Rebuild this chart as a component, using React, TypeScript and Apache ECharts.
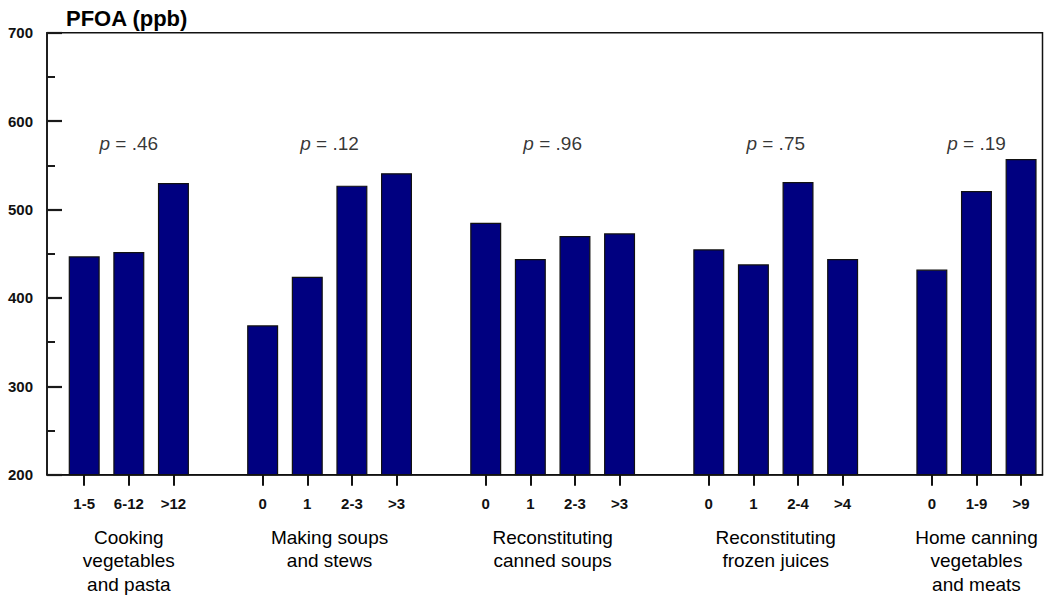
import React, { useEffect, useRef } from "react";
import * as echarts from "echarts";

const groupNames = [
  "Cooking\nvegetables\nand pasta",
  "Making soups\nand stews",
  "Reconstituting\ncanned soups",
  "Reconstituting\nfrozen juices",
  "Home canning\nvegetables\nand meats",
];
const groupCategories = [
  ["1-5", "6-12", ">12"],
  ["0", "1", "2-3", ">3"],
  ["0", "1", "2-3", ">3"],
  ["0", "1", "2-4", ">4"],
  ["0", "1-9", ">9"],
];
const groupValues = [
  [447, 452, 530],
  [369, 424, 527, 541],
  [485, 444, 470, 473],
  [455, 438, 531, 444],
  [432, 521, 557],
];
const pValues = [".46", ".12", ".96", ".75", ".19"];
const yTicks = [200, 300, 400, 500, 600, 700];

const FONT = "'Liberation Sans', Arial, Helvetica, sans-serif";

export default function App() {
  const ref = useRef<HTMLDivElement>(null);
  useEffect(() => {
    document.body.style.margin = "0";
    const chart = echarts.init(ref.current!, undefined, { renderer: "svg" });

    const slotPos: number[] = [];
    const slotLabels: string[] = [];
    const barData: number[][] = [];
    const groupCenters: number[] = [];
    let s = 0;
    groupCategories.forEach((cats, g) => {
      const start = s;
      cats.forEach((c, i) => {
        slotPos.push(s);
        slotLabels.push(c);
        barData.push([s, groupValues[g][i]]);
        s++;
      });
      groupCenters.push((start + s - 1) / 2);
      s++;
    });
    const findIdx = (arr: number[], v: number) =>
      arr.findIndex((p) => Math.abs(p - v) < 1e-6);

    const pLabelY = 575;

    chart.setOption({
      animation: false,
      title: {
        text: "PFOA (ppb)",
        left: 61,
        top: 2,
        textStyle: { fontFamily: FONT, fontSize: 22, fontWeight: "bold", color: "#000" },
      },
      grid: {
        left: 47,
        right: 7.5,
        top: 32.7,
        bottom: 125.3,
        show: true,
        borderColor: "#111",
        borderWidth: 1.5,
        backgroundColor: "transparent",
      },
      xAxis: [
        {
          type: "value",
          min: -0.834,
          max: 21.48,
          splitLine: { show: false },
          axisLine: { show: true, onZero: false, lineStyle: { color: "#111", width: 1.5 } },
          axisTick: {
            show: true,
            length: 11,
            customValues: slotPos,
            lineStyle: { color: "#111", width: 2 },
          },
          axisLabel: {
            customValues: slotPos,
            margin: 21,
            fontFamily: FONT,
            fontSize: 15,
            fontWeight: "bold",
            color: "#111",
            formatter: (v: number) => {
              const i = findIdx(slotPos, v);
              return i >= 0 ? slotLabels[i] : "";
            },
          },
        },
        {
          type: "value",
          min: -0.834,
          max: 21.48,
          position: "bottom",
          offset: 0,
          splitLine: { show: false },
          axisLine: { show: false },
          axisTick: { show: false },
          axisLabel: {
            customValues: groupCenters,
            margin: 51,
            fontFamily: FONT,
            fontSize: 19,
            lineHeight: 23.5,
            color: "#000",
            verticalAlign: "top",
            formatter: (v: number) => {
              const i = findIdx(groupCenters, v);
              return i >= 0 ? groupNames[i] : "";
            },
          },
        },
      ],
      yAxis: {
        type: "value",
        min: 200,
        max: 700,
        interval: 100,
        splitLine: { show: false },
        axisLine: { show: true, onZero: false, lineStyle: { color: "#111", width: 1.5 } },
        axisTick: { show: true, inside: true, length: 15, lineStyle: { color: "#1a1a1a", width: 2.2 } },
        minorTick: { show: true, splitNumber: 2, length: 8, lineStyle: { color: "#1a1a1a", width: 2 } },
        axisLabel: {
          margin: 14,
          fontFamily: FONT,
          fontSize: 15,
          fontWeight: "bold",
          color: "#111",
          formatter: (v: number) => (yTicks.includes(v) ? String(v) : ""),
        },
      },
      series: [
        {
          type: "bar",
          xAxisIndex: 0,
          data: barData,
          barWidth: 31,
          silent: true,
          itemStyle: { color: "#000080", borderColor: "#111", borderWidth: 1.2 },
        },
        {
          type: "scatter",
          xAxisIndex: 0,
          silent: true,
          symbolSize: 0,
          data: groupCenters.map((c) => [c, pLabelY]),
          label: {
            show: true,
            position: "inside",
            fontFamily: FONT,
            fontSize: 19,
            color: "#000",
            formatter: (p: any) => "{i|p} = " + pValues[p.dataIndex],
            rich: {
              i: { fontStyle: "italic", fontFamily: FONT, fontSize: 19, color: "#000" },
            },
          },
        },
      ],
    });
    return () => chart.dispose();
  }, []);
  return (
    <div
      ref={ref}
      style={{ position: "absolute", left: 0, top: 0, width: 1050, height: 600, background: "#fff" }}
    />
  );
}
